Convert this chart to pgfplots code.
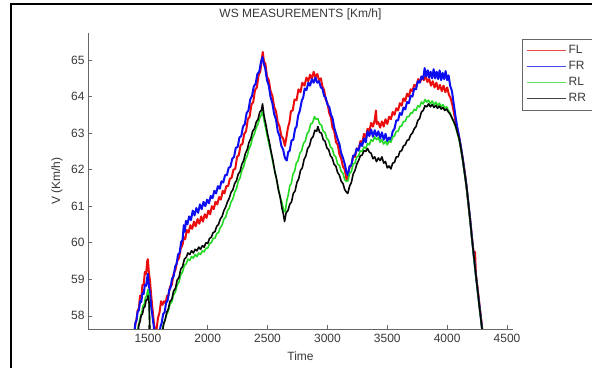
\documentclass[border=0pt]{standalone}
\usepackage{fontspec}
\setmainfont{Liberation Sans}
\usepackage{pgfplots}
\pgfplotsset{compat=1.18}
\definecolor{txt}{gray}{0.22}
\definecolor{axc}{gray}{0.40}
\definecolor{cFL}{rgb}{0.92,0.05,0.05}
\definecolor{cFR}{rgb}{0.05,0.05,0.95}
\definecolor{cRL}{rgb}{0.15,0.85,0.15}
\definecolor{cRR}{rgb}{0.02,0.02,0.02}
\begin{document}
\begin{tikzpicture}[x=1pt,y=1pt]
\useasboundingbox (0,0) rectangle (592,367);
\fill[white] (0,0) rectangle (592,367);
\draw[line width=1.5pt] (11,-5) -- (11,363) -- (600,363);
\begin{axis}[
  at={(88pt,38pt)}, anchor=south west, scale only axis,
  width=425pt, height=296pt,
  xmin=1000, xmax=4550, ymin=57.64, ymax=65.74,
  axis x line*=bottom, axis y line*=left,
  axis line style={draw=axc, line width=0.8pt, -},
  tick align=inside, major tick length=4pt,
  tick style={draw=axc, line width=0.6pt},
  xtick={1500,2000,...,4500}, ytick={58,59,...,65},
  /pgf/number format/assume math mode=true,
  /pgf/number format/1000 sep={},
  tick label style={font=\fontsize{12}{14}\selectfont, text=txt},
  xticklabel style={yshift=-2pt},
  title={WS MEASUREMENTS [Km/h]},
  title style={at={(0.5,1.0439)}, anchor=center, font=\fontsize{12}{14}\selectfont, text=txt},
  xlabel={Time},
  xlabel style={at={(0.5,-0.0912)}, anchor=center, font=\fontsize{12}{14}\selectfont, text=txt},
  ylabel={V (Km/h)},
  ylabel style={at={(-0.0729,0.5)}, anchor=center, font=\fontsize{12}{14}\selectfont, text=txt},
  legend style={at={(1.0212,0.9797)}, anchor=north west, draw=axc,
    font=\fontsize{12}{14}\selectfont, text=txt, row sep=2.2pt, inner sep=4.5pt},
  legend cell align=left,
  legend image code/.code={\draw[#1, line width=0.9pt, opacity=0.75] (0pt,0pt) -- (39pt,0pt);},
]
\addplot[cFL, line width=2.0pt, line join=round] coordinates {
(1385,57.40)(1395,57.75)(1405,57.90)(1415,58.15)(1425,58.20)(1435,58.55)(1445,58.50)(1455,58.85)(1465,58.85)(1475,59.20)(1485,59.15)(1495,59.50)(1500,59.55)(1508,59.20)(1518,58.95)(1528,58.55)(1540,58.15)(1552,57.75)(1565,57.45)(1575,57.70)(1585,57.95)(1598,58.10)(1610,58.40)(1622,58.30)(1635,58.40)(1648,58.35)(1660,58.55)(1672,58.55)(1685,58.80)(1700,58.85)(1715,59.15)(1730,59.25)(1745,59.50)(1760,59.58)(1775,59.85)(1790,59.95)(1800,60.15)(1812,60.10)(1825,60.35)(1840,60.28)(1855,60.48)(1870,60.38)(1885,60.58)(1900,60.45)(1915,60.65)(1930,60.52)(1945,60.72)(1960,60.58)(1975,60.78)(1990,60.68)(2005,60.88)(2020,60.78)(2035,61.00)(2050,60.92)(2065,61.12)(2080,61.05)(2095,61.25)(2110,61.18)(2125,61.42)(2140,61.35)(2155,61.55)(2170,61.55)(2185,61.75)(2200,61.78)(2215,62.00)(2230,62.02)(2245,62.35)(2260,62.40)(2275,62.68)(2290,62.70)(2305,62.98)(2320,63.05)(2335,63.38)(2350,63.45)(2365,63.78)(2380,63.85)(2395,64.18)(2410,64.25)(2425,64.58)(2440,64.70)(2452,65.05)(2460,65.22)(2470,64.95)(2482,64.90)(2495,64.55)(2510,64.45)(2525,64.15)(2540,64.02)(2555,63.72)(2570,63.60)(2585,63.30)(2600,63.18)(2615,62.92)(2630,62.85)(2645,62.65)(2658,62.90)(2670,63.15)(2683,63.30)(2695,63.60)(2710,63.62)(2725,63.92)(2742,63.90)(2758,64.20)(2775,64.12)(2790,64.38)(2808,64.30)(2825,64.52)(2840,64.42)(2855,64.60)(2870,64.48)(2885,64.68)(2900,64.52)(2915,64.62)(2930,64.45)(2945,64.50)(2958,64.28)(2972,64.18)(2985,63.92)(3000,63.82)(3015,63.55)(3030,63.42)(3042,63.15)(3057,63.05)(3072,62.75)(3087,62.68)(3100,62.42)(3115,62.30)(3130,62.08)(3145,62.00)(3160,61.72)(3172,61.85)(3185,62.08)(3200,62.10)(3215,62.38)(3230,62.35)(3245,62.58)(3260,62.55)(3275,62.78)(3290,62.72)(3305,62.98)(3320,62.88)(3335,63.12)(3350,63.05)(3365,63.28)(3380,63.18)(3395,63.35)(3405,63.62)(3412,63.25)(3425,63.30)(3440,63.15)(3455,63.32)(3470,63.18)(3485,63.38)(3500,63.25)(3515,63.45)(3530,63.38)(3545,63.58)(3560,63.50)(3575,63.68)(3590,63.62)(3605,63.82)(3620,63.75)(3635,63.95)(3650,63.88)(3665,64.08)(3680,64.00)(3695,64.20)(3710,64.15)(3725,64.32)(3742,64.28)(3758,64.48)(3775,64.40)(3790,64.55)(3805,64.45)(3820,64.58)(3835,64.40)(3850,64.48)(3865,64.30)(3880,64.42)(3895,64.25)(3910,64.38)(3925,64.20)(3940,64.32)(3955,64.15)(3970,64.30)(3985,64.12)(4000,64.25)(4015,64.05)(4030,63.95)(4045,63.75)(4060,63.50)(4075,63.25)(4090,63.05)(4105,62.80)(4120,62.50)(4135,62.20)(4150,61.85)(4165,61.45)(4180,60.98)(4195,60.55)(4210,60.05)(4225,59.60)(4233,59.75)(4240,59.15)(4255,58.75)(4270,58.30)(4285,57.88)(4300,57.45)(4320,56.95)
};
\addlegendentry{FL}
\addplot[cFR, line width=2.0pt, line join=round] coordinates {
(1385,57.45)(1395,57.80)(1405,57.88)(1415,58.12)(1425,58.15)(1435,58.40)(1445,58.38)(1455,58.62)(1465,58.60)(1475,58.85)(1485,58.82)(1495,59.05)(1500,59.15)(1508,58.85)(1518,58.60)(1528,58.25)(1540,57.95)(1552,57.65)(1565,57.40)(1595,57.45)(1605,57.70)(1615,57.80)(1628,58.05)(1640,58.10)(1652,58.35)(1665,58.42)(1678,58.70)(1690,58.78)(1702,59.02)(1715,59.08)(1728,59.35)(1740,59.42)(1752,59.68)(1765,59.72)(1778,60.02)(1790,60.08)(1800,60.48)(1808,60.30)(1818,60.60)(1830,60.50)(1845,60.72)(1860,60.62)(1875,60.88)(1890,60.75)(1905,60.95)(1920,60.82)(1935,61.05)(1950,60.92)(1965,61.12)(1980,61.00)(1995,61.18)(2010,61.08)(2025,61.28)(2040,61.22)(2055,61.42)(2070,61.35)(2085,61.55)(2100,61.48)(2115,61.68)(2130,61.65)(2145,61.85)(2160,61.85)(2175,62.05)(2190,62.08)(2205,62.30)(2220,62.35)(2235,62.60)(2250,62.62)(2265,62.88)(2280,62.92)(2295,63.18)(2310,63.25)(2325,63.55)(2340,63.62)(2355,63.92)(2370,64.02)(2385,64.28)(2400,64.35)(2415,64.62)(2430,64.68)(2445,64.95)(2458,65.08)(2468,64.90)(2480,64.78)(2495,64.45)(2510,64.30)(2525,63.98)(2540,63.82)(2555,63.52)(2570,63.38)(2585,63.05)(2600,62.92)(2615,62.65)(2630,62.55)(2645,62.32)(2660,62.25)(2672,62.48)(2685,62.52)(2700,62.80)(2715,62.82)(2730,63.12)(2742,63.18)(2755,63.48)(2770,63.62)(2785,63.88)(2798,63.98)(2810,64.22)(2825,64.18)(2840,64.38)(2855,64.30)(2870,64.48)(2885,64.38)(2900,64.52)(2915,64.38)(2930,64.42)(2945,64.25)(2958,64.22)(2972,64.02)(2985,63.98)(3000,63.78)(3015,63.72)(3030,63.50)(3042,63.42)(3057,63.15)(3072,62.98)(3087,62.82)(3100,62.70)(3115,62.45)(3130,62.32)(3145,62.15)(3160,61.92)(3172,61.85)(3185,62.10)(3200,62.12)(3215,62.38)(3230,62.40)(3245,62.58)(3260,62.52)(3275,62.72)(3290,62.65)(3305,62.85)(3320,62.75)(3335,63.05)(3350,62.92)(3365,63.10)(3380,62.90)(3395,63.08)(3410,62.92)(3425,63.05)(3440,62.85)(3455,63.02)(3470,62.82)(3485,62.98)(3500,62.78)(3515,62.88)(3530,62.80)(3545,63.05)(3560,63.12)(3575,63.35)(3590,63.35)(3605,63.55)(3620,63.50)(3635,63.70)(3650,63.65)(3665,63.85)(3680,63.82)(3695,64.02)(3710,64.00)(3725,64.22)(3740,64.20)(3755,64.42)(3770,64.38)(3785,64.55)(3800,64.48)(3812,64.78)(3825,64.55)(3838,64.72)(3850,64.52)(3862,64.68)(3875,64.50)(3887,64.75)(3900,64.50)(3912,64.68)(3925,64.48)(3937,64.72)(3950,64.45)(3962,64.65)(3975,64.48)(3987,64.70)(4000,64.45)(4012,64.58)(4025,64.30)(4040,64.15)(4055,63.80)(4070,63.45)(4085,63.15)(4100,62.90)(4115,62.62)(4130,62.30)(4145,61.95)(4160,61.60)(4175,61.15)(4190,60.70)(4205,60.20)(4220,59.72)(4235,59.25)(4250,58.82)(4265,58.40)(4280,57.98)(4295,57.55)(4320,56.95)
};
\addlegendentry{FR}
\addplot[cRL, line width=1.6pt, line join=round] coordinates {
(1410,57.45)(1420,57.72)(1430,57.85)(1440,58.02)(1450,58.10)(1460,58.28)(1470,58.32)(1480,58.50)(1490,58.55)(1500,58.72)(1507,58.60)(1512,58.20)(1516,57.60)(1520,57.00)(1615,57.45)(1625,57.70)(1640,57.85)(1655,58.02)(1670,58.12)(1685,58.32)(1700,58.38)(1715,58.58)(1730,58.65)(1745,58.85)(1760,58.92)(1775,59.12)(1790,59.20)(1805,59.38)(1820,59.42)(1835,59.55)(1850,59.52)(1865,59.62)(1880,59.58)(1895,59.68)(1910,59.62)(1925,59.72)(1940,59.68)(1955,59.78)(1970,59.75)(1985,59.85)(2000,59.85)(2015,59.98)(2030,60.00)(2045,60.12)(2060,60.12)(2075,60.25)(2090,60.28)(2105,60.42)(2120,60.48)(2135,60.65)(2150,60.70)(2165,60.88)(2180,60.95)(2195,61.12)(2210,61.20)(2225,61.38)(2240,61.48)(2255,61.68)(2270,61.78)(2285,61.98)(2300,62.08)(2315,62.28)(2330,62.38)(2345,62.58)(2360,62.68)(2375,62.88)(2390,62.98)(2405,63.15)(2420,63.25)(2435,63.42)(2448,63.50)(2458,63.62)(2470,63.35)(2485,63.12)(2500,62.88)(2515,62.65)(2530,62.45)(2545,62.18)(2560,61.98)(2575,61.72)(2590,61.50)(2605,61.25)(2620,61.10)(2635,60.88)(2648,60.85)(2660,61.15)(2672,61.30)(2685,61.55)(2698,61.62)(2712,61.88)(2725,61.95)(2740,62.18)(2755,62.25)(2770,62.45)(2785,62.52)(2800,62.72)(2815,62.78)(2830,62.98)(2845,63.05)(2860,63.25)(2875,63.28)(2892,63.45)(2905,63.38)(2920,63.40)(2935,63.25)(2950,63.22)(2965,63.05)(2980,63.02)(2995,62.85)(3010,62.80)(3025,62.62)(3040,62.58)(3055,62.40)(3070,62.35)(3085,62.15)(3100,62.12)(3115,61.95)(3130,61.90)(3145,61.72)(3160,61.68)(3172,61.70)(3185,61.90)(3200,61.95)(3215,62.15)(3230,62.18)(3245,62.35)(3260,62.38)(3275,62.52)(3290,62.50)(3305,62.62)(3320,62.58)(3335,62.72)(3350,62.68)(3365,62.82)(3380,62.78)(3395,62.90)(3410,62.82)(3425,62.88)(3440,62.75)(3455,62.82)(3470,62.70)(3485,62.78)(3500,62.68)(3515,62.78)(3530,62.75)(3545,62.90)(3560,62.92)(3575,63.05)(3590,63.05)(3605,63.18)(3620,63.20)(3635,63.32)(3650,63.32)(3665,63.45)(3680,63.45)(3695,63.55)(3710,63.55)(3725,63.65)(3740,63.62)(3755,63.75)(3770,63.72)(3785,63.85)(3800,63.80)(3815,63.92)(3830,63.85)(3845,63.90)(3860,63.80)(3875,63.88)(3890,63.78)(3905,63.85)(3920,63.75)(3935,63.82)(3950,63.72)(3965,63.78)(3980,63.68)(3995,63.72)(4010,63.62)(4025,63.55)(4040,63.40)(4055,63.30)(4070,63.18)(4085,63.00)(4100,62.82)(4115,62.55)(4130,62.25)(4145,61.90)(4160,61.55)(4175,61.12)(4190,60.65)(4205,60.15)(4220,59.70)(4235,59.22)(4250,58.80)(4265,58.35)(4280,57.95)(4295,57.50)(4320,56.95)
};
\addlegendentry{RL}
\addplot[cRR, line width=1.6pt, line join=round] coordinates {
(1415,57.45)(1425,57.75)(1435,57.85)(1445,58.02)(1455,58.05)(1465,58.22)(1475,58.25)(1485,58.42)(1495,58.45)(1502,58.55)(1510,58.35)(1515,57.80)(1520,57.10)(1620,57.50)(1632,57.78)(1645,57.90)(1658,58.10)(1670,58.18)(1685,58.40)(1700,58.45)(1715,58.68)(1730,58.75)(1745,58.98)(1760,59.05)(1775,59.28)(1790,59.35)(1805,59.55)(1820,59.60)(1835,59.72)(1850,59.68)(1865,59.78)(1880,59.72)(1895,59.82)(1910,59.78)(1925,59.88)(1940,59.82)(1955,59.92)(1970,59.88)(1985,60.00)(2000,59.98)(2015,60.12)(2030,60.15)(2045,60.28)(2060,60.30)(2075,60.45)(2090,60.50)(2105,60.65)(2120,60.72)(2135,60.88)(2150,60.98)(2165,61.12)(2180,61.22)(2195,61.38)(2210,61.45)(2225,61.62)(2240,61.70)(2255,61.88)(2270,61.95)(2285,62.15)(2300,62.25)(2315,62.45)(2330,62.55)(2345,62.75)(2360,62.85)(2375,63.05)(2390,63.12)(2405,63.30)(2420,63.38)(2435,63.58)(2448,63.62)(2458,63.80)(2470,63.48)(2485,63.25)(2500,62.98)(2515,62.75)(2530,62.48)(2545,62.25)(2560,61.95)(2575,61.75)(2590,61.45)(2605,61.25)(2620,60.95)(2632,60.78)(2642,60.58)(2655,60.82)(2670,60.88)(2685,61.05)(2700,61.12)(2715,61.35)(2730,61.42)(2745,61.65)(2760,61.75)(2775,61.98)(2790,62.05)(2805,62.28)(2820,62.38)(2835,62.58)(2850,62.65)(2865,62.85)(2880,62.90)(2895,63.08)(2910,63.05)(2920,63.18)(2935,63.02)(2950,63.00)(2965,62.82)(2980,62.78)(2995,62.60)(3010,62.55)(3025,62.38)(3040,62.32)(3055,62.15)(3070,62.10)(3085,61.92)(3100,61.85)(3115,61.68)(3130,61.62)(3145,61.45)(3160,61.38)(3170,61.35)(3185,61.55)(3200,61.65)(3215,61.88)(3230,61.98)(3245,62.15)(3260,62.25)(3275,62.38)(3290,62.40)(3305,62.52)(3320,62.50)(3335,62.58)(3350,62.48)(3365,62.45)(3380,62.30)(3395,62.35)(3410,62.22)(3425,62.32)(3440,62.25)(3455,62.35)(3470,62.18)(3485,62.22)(3500,62.05)(3515,62.10)(3530,62.02)(3545,62.18)(3560,62.20)(3575,62.35)(3590,62.35)(3605,62.50)(3620,62.52)(3635,62.65)(3650,62.68)(3665,62.80)(3680,62.82)(3695,62.95)(3710,63.00)(3725,63.12)(3740,63.18)(3755,63.35)(3770,63.40)(3785,63.58)(3800,63.62)(3815,63.75)(3830,63.72)(3845,63.80)(3860,63.72)(3875,63.78)(3890,63.70)(3905,63.76)(3920,63.68)(3935,63.74)(3950,63.66)(3965,63.70)(3980,63.62)(3995,63.66)(4010,63.58)(4025,63.52)(4040,63.42)(4055,63.32)(4070,63.20)(4085,63.02)(4100,62.85)(4115,62.58)(4130,62.28)(4145,61.92)(4160,61.58)(4175,61.15)(4190,60.68)(4205,60.18)(4220,59.72)(4235,59.25)(4250,58.82)(4265,58.38)(4280,57.96)(4295,57.52)(4320,56.95)
};
\addlegendentry{RR}
\end{axis}
\end{tikzpicture}
\end{document}
